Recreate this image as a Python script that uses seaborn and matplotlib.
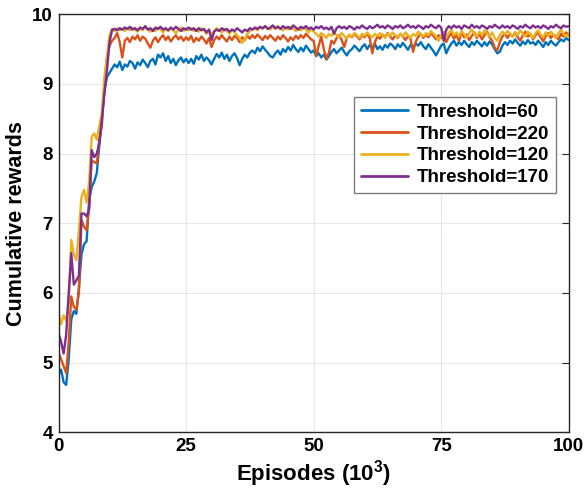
import numpy as np
import pandas as pd
import matplotlib
matplotlib.use("Agg")
import matplotlib.pyplot as plt
import seaborn as sns

episodes = np.arange(0, 100.5, 0.5)

thr60 = [
    4.82, 4.90, 4.72, 4.68, 5.05, 5.62, 5.74, 5.70, 6.08, 6.55, 6.70, 6.74, 7.33, 7.52, 7.60, 7.72, 8.12, 8.52, 8.90, 9.10, 9.16, 9.22, 9.28, 9.24, 9.32,
    9.20, 9.28, 9.25, 9.33, 9.30, 9.22, 9.31, 9.27, 9.35, 9.30, 9.24, 9.33, 9.36, 9.28, 9.42, 9.38, 9.44, 9.33, 9.40, 9.30, 9.36, 9.27, 9.34, 9.38, 9.31, 9.36,
    9.30, 9.36, 9.29, 9.40, 9.35, 9.42, 9.33, 9.38, 9.34, 9.28, 9.36, 9.43, 9.38, 9.45, 9.36, 9.42, 9.33, 9.40, 9.44, 9.37, 9.27, 9.36, 9.42, 9.38, 9.45,
    9.48, 9.44, 9.52, 9.47, 9.54, 9.49, 9.45, 9.40, 9.38, 9.44, 9.48, 9.42, 9.50, 9.46, 9.53, 9.48, 9.56, 9.50, 9.46, 9.52, 9.47, 9.55, 9.50, 9.45, 9.48,
    9.40, 9.44, 9.38, 9.42, 9.35, 9.40, 9.46, 9.50, 9.44, 9.48, 9.52, 9.46, 9.41, 9.47, 9.50, 9.55, 9.51, 9.47, 9.53, 9.57, 9.50, 9.56, 9.52, 9.58, 9.50,
    9.54, 9.49, 9.56, 9.52, 9.58, 9.55, 9.50, 9.57, 9.53, 9.59, 9.54, 9.49, 9.56, 9.52, 9.58, 9.55, 9.60, 9.54, 9.50, 9.57, 9.52, 9.47, 9.41, 9.48, 9.55,
    9.58, 9.44, 9.52, 9.58, 9.62, 9.55, 9.60, 9.56, 9.62, 9.57, 9.53, 9.60, 9.56, 9.62, 9.58, 9.54, 9.60, 9.55, 9.61, 9.57, 9.50, 9.44, 9.46, 9.55, 9.60,
    9.56, 9.62, 9.58, 9.64, 9.59, 9.55, 9.61, 9.57, 9.63, 9.58, 9.60, 9.56, 9.62, 9.58, 9.53, 9.60, 9.56, 9.62, 9.58, 9.55, 9.60, 9.64, 9.61, 9.66, 9.63,
]

thr220 = [
    5.15, 5.05, 4.95, 4.85, 5.30, 5.95, 5.80, 5.76, 6.00, 7.05, 6.95, 6.90, 7.24, 7.90, 7.88, 7.86, 8.20, 8.40, 9.00, 9.39, 9.55, 9.62, 9.66, 9.73, 9.60,
    9.38, 9.62, 9.66, 9.60, 9.68, 9.64, 9.70, 9.62, 9.68, 9.65, 9.58, 9.52, 9.62, 9.67, 9.60, 9.66, 9.70, 9.63, 9.68, 9.61, 9.66, 9.70, 9.64, 9.68, 9.62, 9.67,
    9.63, 9.69, 9.60, 9.66, 9.62, 9.68, 9.64, 9.58, 9.66, 9.53, 9.63, 9.68, 9.64, 9.70, 9.65, 9.61, 9.68, 9.63, 9.69, 9.66, 9.60, 9.67, 9.63, 9.69, 9.65,
    9.70, 9.66, 9.71, 9.67, 9.63, 9.69, 9.65, 9.70, 9.66, 9.62, 9.68, 9.64, 9.70, 9.66, 9.61, 9.67, 9.63, 9.69, 9.65, 9.70, 9.66, 9.72, 9.68, 9.64, 9.62,
    9.40, 9.55, 9.68, 9.50, 9.36, 9.45, 9.62, 9.58, 9.66, 9.70, 9.63, 9.53, 9.66, 9.70, 9.67, 9.72, 9.68, 9.64, 9.70, 9.67, 9.72, 9.66, 9.44, 9.60, 9.68,
    9.65, 9.71, 9.67, 9.73, 9.68, 9.64, 9.70, 9.66, 9.72, 9.68, 9.63, 9.69, 9.65, 9.46, 9.60, 9.68, 9.72, 9.66, 9.71, 9.67, 9.73, 9.69, 9.64, 9.70, 9.66,
    9.72, 9.60, 9.68, 9.73, 9.65, 9.70, 9.62, 9.74, 9.67, 9.71, 9.63, 9.69, 9.74, 9.66, 9.72, 9.64, 9.70, 9.75, 9.67, 9.62, 9.52, 9.48, 9.60, 9.68, 9.72,
    9.66, 9.72, 9.68, 9.74, 9.67, 9.62, 9.70, 9.75, 9.68, 9.72, 9.64, 9.70, 9.74, 9.67, 9.61, 9.69, 9.73, 9.66, 9.71, 9.68, 9.64, 9.72, 9.68, 9.74, 9.70,
]

thr120 = [
    5.71, 5.55, 5.68, 5.60, 5.85, 6.76, 6.55, 6.47, 6.90, 7.38, 7.48, 7.30, 7.60, 8.24, 8.29, 8.20, 8.40, 8.58, 9.10, 9.39, 9.70, 9.78, 9.76, 9.80, 9.77,
    9.79, 9.76, 9.80, 9.77, 9.81, 9.78, 9.75, 9.80, 9.77, 9.82, 9.78, 9.75, 9.79, 9.76, 9.81, 9.78, 9.74, 9.79, 9.76, 9.80, 9.77, 9.73, 9.78, 9.81, 9.76, 9.79,
    9.77, 9.80, 9.76, 9.79, 9.75, 9.80, 9.77, 9.72, 9.78, 9.70, 9.76, 9.80, 9.77, 9.74, 9.79, 9.76, 9.72, 9.78, 9.74, 9.70, 9.66, 9.59, 9.64, 9.72, 9.76,
    9.78, 9.80, 9.77, 9.82, 9.79, 9.83, 9.80, 9.78, 9.82, 9.79, 9.83, 9.80, 9.77, 9.81, 9.78, 9.82, 9.79, 9.76, 9.80, 9.77, 9.81, 9.78, 9.74, 9.79, 9.75,
    9.72, 9.68, 9.73, 9.70, 9.66, 9.72, 9.69, 9.74, 9.70, 9.67, 9.73, 9.69, 9.65, 9.71, 9.68, 9.73, 9.70, 9.66, 9.72, 9.69, 9.74, 9.70, 9.67, 9.72, 9.69,
    9.73, 9.70, 9.66, 9.72, 9.69, 9.74, 9.70, 9.67, 9.72, 9.68, 9.74, 9.70, 9.66, 9.72, 9.69, 9.75, 9.71, 9.68, 9.73, 9.70, 9.76, 9.72, 9.68, 9.62, 9.70,
    9.75, 9.68, 9.73, 9.78, 9.70, 9.74, 9.68, 9.76, 9.71, 9.66, 9.73, 9.78, 9.72, 9.68, 9.75, 9.70, 9.77, 9.72, 9.68, 9.74, 9.66, 9.62, 9.70, 9.75, 9.71,
    9.76, 9.72, 9.68, 9.74, 9.70, 9.77, 9.72, 9.68, 9.75, 9.71, 9.66, 9.73, 9.77, 9.71, 9.67, 9.74, 9.69, 9.75, 9.71, 9.66, 9.73, 9.78, 9.72, 9.68, 9.72,
]

thr170 = [
    5.42, 5.30, 5.13, 5.40, 6.00, 6.57, 6.12, 6.18, 6.25, 7.14, 7.14, 7.10, 7.20, 8.05, 7.95, 8.00, 8.15, 8.49, 8.87, 9.20, 9.60, 9.78, 9.79, 9.77, 9.80,
    9.78, 9.81, 9.79, 9.82, 9.78, 9.80, 9.77, 9.81, 9.79, 9.83, 9.78, 9.80, 9.76, 9.81, 9.79, 9.82, 9.78, 9.80, 9.77, 9.81, 9.78, 9.82, 9.79, 9.76, 9.80, 9.78,
    9.81, 9.78, 9.80, 9.76, 9.80, 9.77, 9.79, 9.74, 9.78, 9.63, 9.75, 9.78, 9.76, 9.80, 9.77, 9.79, 9.75, 9.78, 9.76, 9.80, 9.77, 9.74, 9.78, 9.76, 9.80,
    9.78, 9.81, 9.79, 9.82, 9.80, 9.83, 9.79, 9.81, 9.84, 9.80, 9.82, 9.79, 9.83, 9.80, 9.82, 9.79, 9.84, 9.81, 9.78, 9.82, 9.80, 9.83, 9.79, 9.81, 9.78,
    9.82, 9.80, 9.83, 9.79, 9.81, 9.78, 9.82, 9.72, 9.80, 9.83, 9.80, 9.82, 9.79, 9.83, 9.81, 9.78, 9.82, 9.80, 9.84, 9.81, 9.79, 9.83, 9.80, 9.82, 9.85,
    9.81, 9.83, 9.80, 9.84, 9.82, 9.79, 9.83, 9.81, 9.84, 9.80, 9.82, 9.85, 9.81, 9.83, 9.80, 9.84, 9.82, 9.79, 9.83, 9.81, 9.85, 9.82, 9.80, 9.84, 9.81,
    9.62, 9.78, 9.83, 9.80, 9.84, 9.81, 9.83, 9.79, 9.84, 9.82, 9.80, 9.85, 9.81, 9.83, 9.80, 9.84, 9.82, 9.79, 9.83, 9.81, 9.85, 9.82, 9.80, 9.84, 9.81,
    9.83, 9.80, 9.84, 9.82, 9.79, 9.83, 9.81, 9.85, 9.82, 9.80, 9.84, 9.81, 9.83, 9.80, 9.84, 9.82, 9.79, 9.83, 9.81, 9.85, 9.82, 9.80, 9.84, 9.82, 9.83,
]

labels = ["Threshold=60", "Threshold=220", "Threshold=120", "Threshold=170"]
colors = ["#0072BD", "#D95319", "#EDB120", "#7E2F8E"]
x_ticks = [0, 25, 50, 75, 100]
y_ticks = [4, 5, 6, 7, 8, 9, 10]

series = [thr60, thr220, thr120, thr170]
frames = []
for lab, vals in zip(labels, series):
    frames.append(pd.DataFrame({"Episodes": episodes, "Reward": vals, "Series": lab}))
df = pd.concat(frames, ignore_index=True)

sns.set_style("white")
plt.rcParams["font.family"] = ["Liberation Sans", "DejaVu Sans"]
plt.rcParams["mathtext.fontset"] = "custom"
plt.rcParams["mathtext.rm"] = "Liberation Sans:bold"
plt.rcParams["mathtext.bf"] = "Liberation Sans:bold"
plt.rcParams["text.color"] = "black"
plt.rcParams["axes.labelcolor"] = "black"
plt.rcParams["xtick.color"] = "black"
plt.rcParams["ytick.color"] = "black"

fig = plt.figure(figsize=(5.84, 4.91), dpi=100)
ax = fig.add_axes([0.1002, 0.1196, 0.8736, 0.8513])

sns.lineplot(data=df, x="Episodes", y="Reward", hue="Series", hue_order=labels,
             palette=colors, linewidth=1.7, ax=ax, estimator=None, sort=False)

ax.set_xlim(0, 100)
ax.set_ylim(4, 10)
ax.set_xticks(x_ticks)
ax.set_yticks(y_ticks)
ax.set_xticklabels([str(t) for t in x_ticks], fontsize=13.5, fontweight="bold", color="black")
ax.set_yticklabels([str(t) for t in y_ticks], fontsize=13.5, fontweight="bold", color="black")
ax.grid(True, color="#e6e6e6", linewidth=0.8)
ax.set_axisbelow(True)
ax.tick_params(direction="in", length=5, width=0.8, top=True, right=True,
               colors="#262626", labelcolor="black", pad=4)
for sp in ax.spines.values():
    sp.set_visible(True)
    sp.set_color("#262626")
    sp.set_linewidth(1.0)

ax.set_xlabel(r"Episodes (10$^{\mathbf{3}}$)", fontsize=16, fontweight="bold",
              labelpad=2, color="black")
ax.set_ylabel("Cumulative rewards", fontsize=15.5, fontweight="bold", labelpad=4,
              color="black")

leg = ax.legend(loc="upper right", bbox_to_anchor=(0.975, 0.802), borderaxespad=0,
                prop={"weight": "bold", "size": 13.5}, frameon=True, fancybox=False,
                framealpha=1, edgecolor="#7f7f7f", handlelength=2.5,
                borderpad=0.35, labelspacing=0.25, handletextpad=0.5)
leg.get_frame().set_linewidth(1.0)
for line in leg.get_lines():
    line.set_linewidth(2.0)
for t in leg.get_texts():
    t.set_color("black")

fig.savefig("out.png", dpi=100)
